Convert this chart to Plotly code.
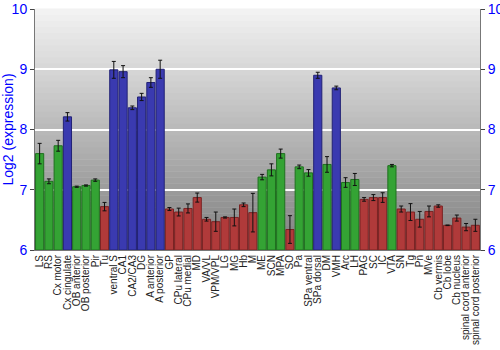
import plotly.graph_objects as go

regions = ["LS", "RS", "Cx motor", "Cx cingulate", "OB anterior", "OB posterior", "Pir", "Tu",
           "ventral S", "CA1", "CA2/CA3", "DG", "A anterior", "A posterior", "GP", "CPu lateral",
           "CPu medial", "MD", "VA/VL", "VPM/VPL", "LG", "MG", "Hb", "M", "ME", "SCN", "MPA", "SO",
           "Pa", "SPa ventral", "SPa dorsal", "DM", "VMH", "Arc", "LH", "PAG", "SC", "IC", "VTA",
           "SN", "Tg", "Pn", "MVe", "Cb vermis", "Cb lobe", "Cb nucleus", "spinal cord anterior",
           "spinal cord posterior"]
values = [7.60, 7.14, 7.73, 8.21, 7.05, 7.07, 7.16, 6.72,
          8.99, 8.96, 8.36, 8.54, 8.78, 9.00, 6.68, 6.63,
          6.69, 6.87, 6.51, 6.47, 6.54, 6.54, 6.75, 6.62, 7.21, 7.33, 7.60, 6.34,
          7.38, 7.28, 8.90, 7.42, 8.69, 7.12, 7.17, 6.84, 6.87, 6.87, 7.40,
          6.68, 6.63, 6.51, 6.64, 6.73, 6.41, 6.53, 6.38, 6.41]
errors = [0.17, 0.04, 0.09, 0.07, 0.01, 0.01, 0.02, 0.07,
          0.14, 0.10, 0.03, 0.06, 0.08, 0.15, 0.025, 0.065,
          0.075, 0.075, 0.03, 0.16, 0.01, 0.14, 0.03, 0.32, 0.045, 0.10, 0.075, 0.23,
          0.03, 0.055, 0.05, 0.13, 0.03, 0.08, 0.10, 0.03, 0.05, 0.08, 0.02,
          0.05, 0.14, 0.13, 0.09, 0.02, 0.005, 0.05, 0.06, 0.10]
groups = ["g", "g", "g", "b", "g", "g", "g", "r",
          "b", "b", "b", "b", "b", "b", "r", "r",
          "r", "r", "r", "r", "r", "r", "r", "r", "g", "g", "g", "r",
          "g", "g", "b", "g", "b", "g", "g", "r", "r", "r", "g",
          "r", "r", "r", "r", "r", "r", "r", "r", "r"]
y_ticks = [6, 7, 8, 9, 10]

fill = {"g": "#34a334", "b": "#3a3ab0", "r": "#b03a3a"}
edge = {"g": "#1f701f", "b": "#222275", "r": "#7a2222"}

fig = go.Figure()
fig.add_trace(go.Bar(
    x=regions, y=[v - 6 for v in values], base=6,
    marker=dict(color=[fill[g] for g in groups],
                line=dict(color=[edge[g] for g in groups], width=1)),
    error_y=dict(type="data", array=errors, color="#111111", thickness=1, width=2),
    showlegend=False, hoverinfo="skip",
))
fig.add_trace(go.Scatter(x=[regions[0]], y=[6], yaxis="y2", mode="markers",
                         marker=dict(opacity=0), showlegend=False, hoverinfo="skip"))

# background vertical gradient
n = 40
shapes = []
for i in range(n):
    t = i / (n - 1)
    c = int(round(0x80 + (0xf2 - 0x80) * t))
    shapes.append(dict(type="rect", xref="paper", yref="paper", x0=0, x1=1,
                       y0=i / n, y1=(i + 1) / n + 0.002, fillcolor=f"rgb({c},{c},{c})",
                       line=dict(width=0), layer="below"))

axis_font = dict(family="Liberation Sans, Arial, sans-serif", size=14, color="#0000ff")
fig.update_layout(
    width=500, height=350,
    margin=dict(l=35, r=20, t=9, b=100),
    paper_bgcolor="white", plot_bgcolor="rgba(0,0,0,0)",
    bargap=0.12, shapes=shapes,
    xaxis=dict(tickangle=-90, tickmode="array", tickvals=regions, ticktext=regions,
               tickfont=dict(family="Liberation Sans, Arial, sans-serif",
                             size=10, color="#222222"),
               showline=True, linecolor="#777777", mirror=False, ticks="",
               showgrid=False, range=[-0.5, len(regions) - 0.5], automargin=False),
    yaxis=dict(range=[6, 10], tickvals=y_ticks, tickfont=axis_font,
               title=dict(text="Log2 (expression)", font=axis_font, standoff=6),
               showgrid=True, gridcolor="white", gridwidth=1.5,
               showline=True, linecolor="#777777", mirror=True, automargin=False,
               ticks="outside", ticklen=4, tickcolor="#444444", zeroline=False),
    yaxis2=dict(range=[6, 10], tickvals=y_ticks, tickfont=axis_font, overlaying="y",
                side="right", showgrid=False, showline=True, linecolor="#777777",
                automargin=False,
                ticks="outside", ticklen=4, tickcolor="#444444", zeroline=False),
)
fig.write_html("out.html")
